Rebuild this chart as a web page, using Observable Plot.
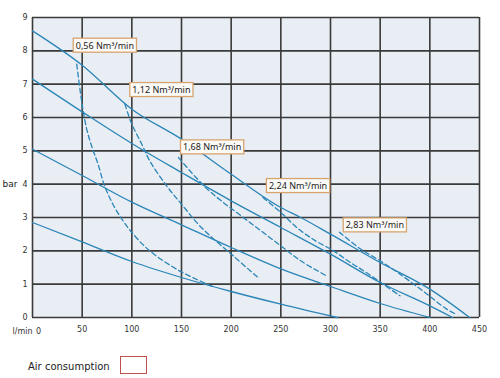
<!DOCTYPE html>
<html>
<head>
<meta charset="utf-8">
<script src="https://cdn.jsdelivr.net/npm/d3@7"></script>
<script src="https://cdn.jsdelivr.net/npm/@observablehq/plot@0.6"></script>
<style>
  html, body { margin: 0; padding: 0; background: #fff; }
  #legend { position: relative; height: 33px; font-family: "DejaVu Sans", sans-serif; font-size: 10px; color: #222; }
  #legend .lbl { position: absolute; left: 28px; top: 16px; }
  #legend .box { position: absolute; left: 120px; top: 11px; width: 25px; height: 16px; border: 1.5px solid #c0504d; background: #fff; }
</style>
</head>
<body>
<div id="chart"></div>
<div id="legend"><span class="lbl">Air consumption</span><span class="box"></span></div>
<script>
// ---- axis ticks ----
const xTicks = [50, 100, 150, 200, 250, 300, 350, 400, 450];
const xGrid = [0, 50, 100, 150, 200, 250, 300, 350, 400, 450];
const yTicks = [0, 1, 2, 3, 4, 5, 6, 7, 8, 9];

// ---- solid performance curves (flow l/min, pressure bar) ----
const curveA_flow = [0, 50, 100, 150, 200, 250, 270, 300, 350, 400, 440];
const curveA_bar  = [8.6, 7.57, 6.25, 5.35, 4.3, 3.3, 3.0, 2.5, 1.65, 0.85, 0];
const curveB_flow = [0, 50, 100, 150, 200, 250, 300, 350, 400, 423];
const curveB_bar  = [7.15, 6.17, 5.22, 4.35, 3.5, 2.7, 1.9, 1.05, 0.35, 0];
const curveC_flow = [0, 50, 100, 150, 200, 250, 300, 350, 400];
const curveC_bar  = [5.05, 4.26, 3.46, 2.78, 2.1, 1.46, 0.93, 0.42, 0];
const curveD_flow = [0, 50, 100, 150, 200, 250, 307];
const curveD_bar  = [2.85, 2.27, 1.68, 1.2, 0.78, 0.4, 0];

// ---- dashed air consumption curves ----
const air056_flow = [44.5, 48, 51, 55, 60, 66, 72, 80, 90, 100, 118, 148, 182];
const air056_bar  = [7.6, 6.8, 6.2, 5.6, 5.1, 4.6, 4.0, 3.45, 2.95, 2.55, 2.0, 1.4, 0.92];
const air112_flow = [93, 100, 110, 118, 135, 150, 170, 202, 227];
const air112_bar  = [6.4, 5.8, 5.2, 4.7, 3.95, 3.4, 2.7, 1.85, 1.2];
const air168_flow = [147, 160, 175, 190, 210, 230, 250, 270, 296];
const air168_bar  = [4.8, 4.35, 3.88, 3.5, 3.05, 2.6, 2.15, 1.7, 1.25];
const air224_flow = [232, 250, 268, 285, 303, 320, 336, 353, 370];
const air224_bar  = [3.6, 3.15, 2.65, 2.3, 2.0, 1.65, 1.35, 1.0, 0.65];
const air283_flow = [309, 330, 350, 370, 395, 417, 425];
const air283_bar  = [2.56, 2.06, 1.7, 1.3, 0.75, 0.25, 0.12];

// ---- label texts and anchors ----
const labelText = ["0,56 Nm³/min", "1,12 Nm³/min", "1,68 Nm³/min", "2,24 Nm³/min", "2,83 Nm³/min"];
const labelFlow = [40.5, 97.4, 148.5, 235, 312.3];
const labelBar  = [8.15, 6.82, 5.1, 3.94, 2.76];

const toPts = (xs, ys) => xs.map((x, i) => ({x, y: ys[i]}));
const solid = [
  toPts(curveA_flow, curveA_bar), toPts(curveB_flow, curveB_bar),
  toPts(curveC_flow, curveC_bar), toPts(curveD_flow, curveD_bar)
];
const dashed = [
  toPts(air056_flow, air056_bar), toPts(air112_flow, air112_bar),
  toPts(air168_flow, air168_bar), toPts(air224_flow, air224_bar),
  toPts(air283_flow, air283_bar)
];
const labels = labelText.map((t, i) => ({t, x: labelFlow[i], y: labelBar[i]}));

const lineColor = "#2a86b8";
const gridColor = "#3a3a3a";

const chart = Plot.plot({
  width: 500,
  height: 345,
  marginLeft: 32,
  marginRight: 21,
  marginTop: 17,
  marginBottom: 28,
  style: { fontFamily: "DejaVu Sans, sans-serif", fontSize: "8px", color: "#333", background: "#fff" },
  x: { domain: [0, 450] },
  y: { domain: [0, 9] },
  marks: [
    Plot.frame({ fill: "#e9edf4", stroke: "none" }),
    Plot.ruleX(xGrid, { stroke: gridColor, strokeWidth: 1.6 }),
    Plot.ruleY(yTicks, { stroke: gridColor, strokeWidth: 1.6 }),
    ...solid.map(d => Plot.line(d, { x: "x", y: "y", stroke: lineColor, strokeWidth: 1.3, curve: "monotone-x" })),
    ...dashed.map(d => Plot.line(d, { x: "x", y: "y", stroke: lineColor, strokeWidth: 1.3, strokeDasharray: "5,3", curve: "catmull-rom" })),
    Plot.axisY(yTicks, { tickSize: 0, tickPadding: 5, label: null, fontSize: 8 }),
    Plot.axisX(xTicks, { tickSize: 0, tickPadding: 9, label: null, fontSize: 8 }),
    Plot.text([0], { x: d => d, y: 0, text: () => "0", dy: 13.5, dx: 6, fontSize: 8, fill: "#333" }),
    Plot.text([0], { x: d => d, y: 0, text: () => "l/min", dy: 13.5, dx: 0, textAnchor: "end", fontSize: 8, fill: "#333" }),
    Plot.text([4], { x: 0, y: d => d, text: () => "bar", dx: -15, textAnchor: "end", fontSize: 9, fill: "#222" }),
    Plot.text(labels, { x: "x", y: "y", text: "t", textAnchor: "start", dx: 3, fontSize: 9, fill: "#222", fontFamily: "Noto Sans, sans-serif" })
  ]
});

document.getElementById("chart").append(chart);

// draw boxes behind the flow labels
d3.select(chart).selectAll("text")
  .filter(function () { return this.textContent.indexOf("Nm") >= 0; })
  .each(function () {
    const b = this.getBBox();
    const r = document.createElementNS("http://www.w3.org/2000/svg", "rect");
    r.setAttribute("x", b.x - 2.5);
    r.setAttribute("y", b.y - 0.5);
    r.setAttribute("width", b.width + 5);
    r.setAttribute("height", b.height + 1);
    const tr = this.getAttribute("transform");
    if (tr) r.setAttribute("transform", tr);
    r.setAttribute("fill", "#fbfaf7");
    r.setAttribute("stroke", "#d7a46e");
    r.setAttribute("stroke-width", "1.3");
    this.parentNode.insertBefore(r, this);
  });
</script>
</body>
</html>
